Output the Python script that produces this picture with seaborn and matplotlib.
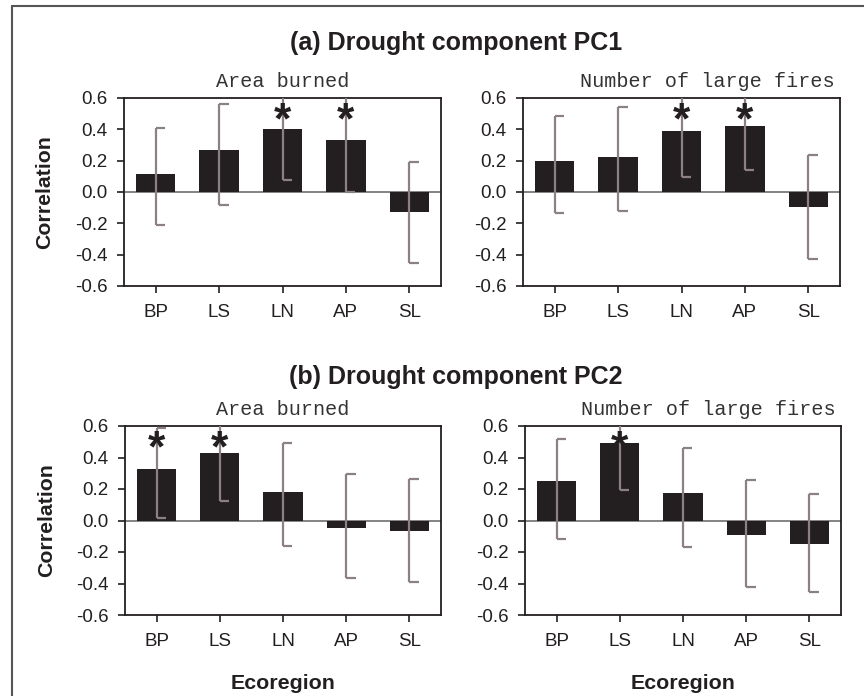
import numpy as np
import pandas as pd
import matplotlib
matplotlib.use("Agg")
import matplotlib.pyplot as plt
import seaborn as sns
from matplotlib.lines import Line2D

sns.set_style("white")
plt.rcParams.update({
    'font.family': ['Liberation Sans', 'DejaVu Sans'],
    'axes.unicode_minus': False,
    'axes.edgecolor': '#231f20',
    'axes.linewidth': 1.3,
})

# ecoregions on the x axis
ecoregions = ["BP", "LS", "LN", "AP", "SL"]

# (a) PC1 - area burned
pc1_area = [0.115, 0.265, 0.405, 0.335, -0.13]
pc1_area_lo = [-0.21, -0.08, 0.075, 0.0, -0.45]
pc1_area_hi = [0.41, 0.56, 0.70, 0.70, 0.19]
pc1_area_sig = [False, False, True, True, False]

# (a) PC1 - number of large fires
pc1_fires = [0.195, 0.225, 0.39, 0.42, -0.095]
pc1_fires_lo = [-0.135, -0.12, 0.095, 0.14, -0.425]
pc1_fires_hi = [0.485, 0.545, 0.70, 0.70, 0.235]
pc1_fires_sig = [False, False, True, True, False]

# (b) PC2 - area burned
pc2_area = [0.325, 0.43, 0.18, -0.05, -0.065]
pc2_area_lo = [0.015, 0.125, -0.165, -0.365, -0.39]
pc2_area_hi = [0.59, 0.70, 0.495, 0.295, 0.265]
pc2_area_sig = [True, True, False, False, False]

# (b) PC2 - number of large fires
pc2_fires = [0.25, 0.49, 0.175, -0.09, -0.15]
pc2_fires_lo = [-0.12, 0.195, -0.17, -0.42, -0.455]
pc2_fires_hi = [0.515, 0.70, 0.46, 0.255, 0.17]
pc2_fires_sig = [False, True, False, False, False]

yticks = [-0.6, -0.4, -0.2, 0.0, 0.2, 0.4, 0.6]
ytick_labels = ["-0.6", "-0.4", "-0.2", "0.0", "0.2", "0.4", "0.6"]

bar_color = '#231f20'
err_color = '#8c8080'

W, H = 864, 696
fig = plt.figure(figsize=(W / 100, H / 100), dpi=100)


def px_axes(left, top, right, bottom):
    return fig.add_axes([left / W, 1 - bottom / H, (right - left) / W, (bottom - top) / H])


panels = [
    (px_axes(124, 98, 441, 286), pc1_area, pc1_area_lo, pc1_area_hi, pc1_area_sig, "Area burned", 0.5, True, False),
    (px_axes(523, 98, 840, 286), pc1_fires, pc1_fires_lo, pc1_fires_hi, pc1_fires_sig, "Number of large fires", 0.58, False, False),
    (px_axes(125, 426, 441, 615), pc2_area, pc2_area_lo, pc2_area_hi, pc2_area_sig, "Area burned", 0.5, True, True),
    (px_axes(525, 426, 841, 615), pc2_fires, pc2_fires_lo, pc2_fires_hi, pc2_fires_sig, "Number of large fires", 0.58, False, True),
]

for ax, vals, lo, hi, sig, sub, subx, ylab, xlab in panels:
    df = pd.DataFrame({"Ecoregion": ecoregions, "Correlation": vals})
    ax.axhline(0, color='#6e6e6e', lw=1.2, zorder=1)
    sns.barplot(data=df, x="Ecoregion", y="Correlation", order=ecoregions,
                color=bar_color, saturation=1, width=0.62, edgecolor='none',
                ax=ax, zorder=2)
    pos = np.arange(len(ecoregions))
    ax.vlines(pos, lo, hi, color=err_color, lw=1.6, zorder=3)
    ax.hlines(lo, pos, pos + 0.15, color=err_color, lw=1.6, zorder=3)
    ax.hlines(hi, pos, pos + 0.15, color=err_color, lw=1.6, zorder=3)
    for i, s in enumerate(sig):
        if s:
            ax.text(i, 0.45, "*", ha='center', va='center', fontsize=32,
                    fontweight='bold', color=bar_color, zorder=4)
    ax.set_xlim(-0.5, 4.5)
    ax.set_ylim(-0.6, 0.6)
    ax.set_yticks(yticks)
    ax.set_yticklabels(ytick_labels)
    ax.tick_params(axis='both', direction='out', length=5, width=1.2,
                   color=bar_color, labelsize=13.5, labelcolor=bar_color,
                   left=True, bottom=True)
    ax.tick_params(axis='y', pad=7)
    ax.tick_params(axis='x', pad=8)
    ax.text(subx, 1.088, sub, transform=ax.transAxes, ha='center', va='center',
            fontsize=14.5, family=['Liberation Mono', 'DejaVu Sans Mono'], color='#333333')
    if ylab:
        ax.set_ylabel("Correlation", fontsize=15.3, fontweight='bold', color=bar_color, va='center')
        ax.yaxis.set_label_coords(-0.249, 0.5)
    else:
        ax.set_ylabel("")
    if xlab:
        ax.set_xlabel("Ecoregion", fontsize=15.4, fontweight='bold', color=bar_color, va='center')
        ax.xaxis.set_label_coords(0.5, -0.362)
    else:
        ax.set_xlabel("")

fig.text(456 / W, 1 - 43 / H, "(a) Drought component PC1", ha='center', va='center',
         fontsize=18, fontweight='bold', color=bar_color)
fig.text(456 / W, 1 - 377 / H, "(b) Drought component PC2", ha='center', va='center',
         fontsize=18, fontweight='bold', color=bar_color)

# outer frame (top and left edges visible)
fig.add_artist(Line2D([12 / W, 1], [1 - 6 / H, 1 - 6 / H], color='#555555', lw=1.5))
fig.add_artist(Line2D([12 / W, 12 / W], [0, 1 - 6 / H], color='#555555', lw=1.5))

fig.savefig("out.png", dpi=100)
